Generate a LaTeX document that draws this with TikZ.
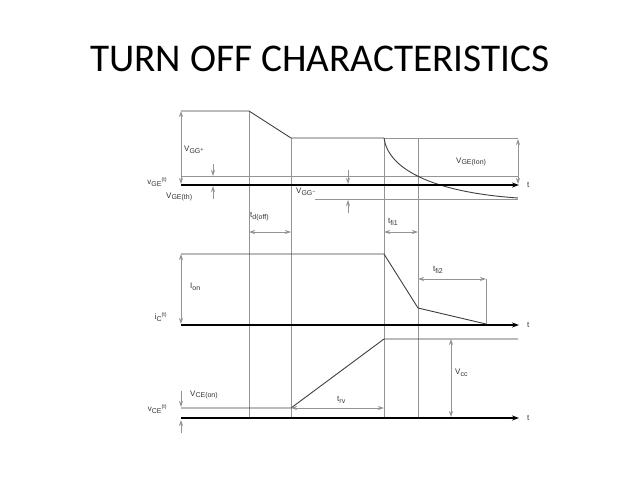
\documentclass[tikz,border=0pt]{standalone}
\usepackage{fontspec}
\setmainfont{Liberation Sans}
\newfontfamily\titlefont{Carlito}
\usetikzlibrary{arrows.meta}
\newcommand{\sbs}[1]{\raisebox{-0.45ex}{\fontsize{7}{8}\selectfont #1}}
\newcommand{\sps}[1]{\raisebox{0.6ex}{\fontsize{5.5}{6}\selectfont #1}}
\begin{document}
\begin{tikzpicture}[x=1pt,y=-1pt,
  gline/.style={draw=black!42, line width=0.8pt},
  wave/.style={draw=black!75, line width=0.9pt},
  axis/.style={draw=black, line width=1.3pt, -{Stealth[length=7pt,width=5pt]}},
  dim/.style={draw=black!42, line width=0.8pt, {Stealth[length=6pt,width=4pt]}-{Stealth[length=6pt,width=4pt]}},
  ptr/.style={draw=black!42, line width=0.8pt, -{Stealth[length=6pt,width=4pt]}},
  lbl/.style={inner sep=0pt, font=\fontsize{8}{9}\selectfont, text=black!80}]
\useasboundingbox[fill=white] (0,0) rectangle (638,479);
\node[font=\titlefont\fontsize{39.3}{40}\selectfont] (title) at (320,59) {TURN OFF CHARACTERISTICS};

% vertical time markers
\draw[gline] (249,111) -- (249,418);
\draw[gline] (291,138) -- (291,418);
\draw[gline] (384,138) -- (384,418);
\draw[gline] (418,138) -- (418,418);

% top: gate voltage
\draw[gline] (181,176) -- (518,176);
\draw[gline] (384,138) -- (518,138);
\draw[gline] (315,199) -- (518,199);
\draw[wave] (181,111) -- (249,111) -- (291,138) -- (384,138);
\draw[wave] (384,138) .. controls (388,168) and (430,192) .. (518,198);
\draw[axis] (181,185) -- (519,185);

% middle: collector current
\draw[wave] (181,254) -- (384,254) -- (418,308) -- (486,324);
\draw[gline] (486,279) -- (486,324);
\draw[axis] (181,325) -- (519,325);

% bottom: collector-emitter voltage
\draw[wave] (181,408) -- (291,408) -- (384,339) -- (518,339);
\draw[axis] (181,418) -- (519,418);

% dimension arrows
\draw[dim] (181,111) -- (181,184);
\draw[dim] (518,139) -- (518,184);
\draw[ptr] (213,164) -- (213,176);
\draw[ptr] (213,199) -- (213,186);
\draw[ptr] (348,170) -- (348,184);
\draw[ptr] (348,213) -- (348,200);
\draw[dim] (249,232) -- (291,232);
\draw[dim] (384,232) -- (418,232);
\draw[dim] (181,254) -- (181,324);
\draw[dim] (418,279) -- (486,279);
\draw[ptr] (181,391) -- (181,407);
\draw[ptr] (181,433) -- (181,420);
\draw[dim] (451,339) -- (451,417);
\draw[dim] (291,408) -- (384,408);

% labels
\node[lbl, anchor=west] (vggp) at (184,150) {V\sbs{GG\sps{+}}};
\node[lbl, anchor=east] (vget) at (167,182) {v\sbs{GE}\sps{(t)}};
\node[lbl, anchor=west] (vgeth) at (166,197) {V\sbs{GE(th)}};
\node[lbl, anchor=west] (vggm) at (296,192) {V\sbs{GG\sps{−}}};
\node[lbl, anchor=west] (tdoff) at (250,217) {t\sbs{d(off)}};
\node[lbl, anchor=west] (vgeion) at (456,162) {V\sbs{GE(Ion)}};
\node[lbl, anchor=west] (tfi1) at (388,222) {t\sbs{f\kern0pt i1}};
\node[lbl, anchor=west] (t1) at (527,185) {t};
\node[lbl, anchor=west] (ion) at (190,287) {I\sbs{on}};
\node[lbl, anchor=east] (ict) at (167,317) {i\sbs{C}\sps{(t)}};
\node[lbl, anchor=west] (tfi2) at (433,270) {t\sbs{f\kern0pt i2}};
\node[lbl, anchor=west] (t2) at (527,325) {t};
\node[lbl, anchor=west] (vceon) at (190,395) {V\sbs{CE(on)}};
\node[lbl, anchor=east] (vcet) at (167,409) {v\sbs{CE}\sps{(t)}};
\node[lbl, anchor=west] (trv) at (337,400) {t\sbs{rv}};
\node[lbl, anchor=west] (vcc) at (455,373) {V\sbs{cc}};
\node[lbl, anchor=west] (t3) at (527,418) {t};
\end{tikzpicture}
\end{document}
